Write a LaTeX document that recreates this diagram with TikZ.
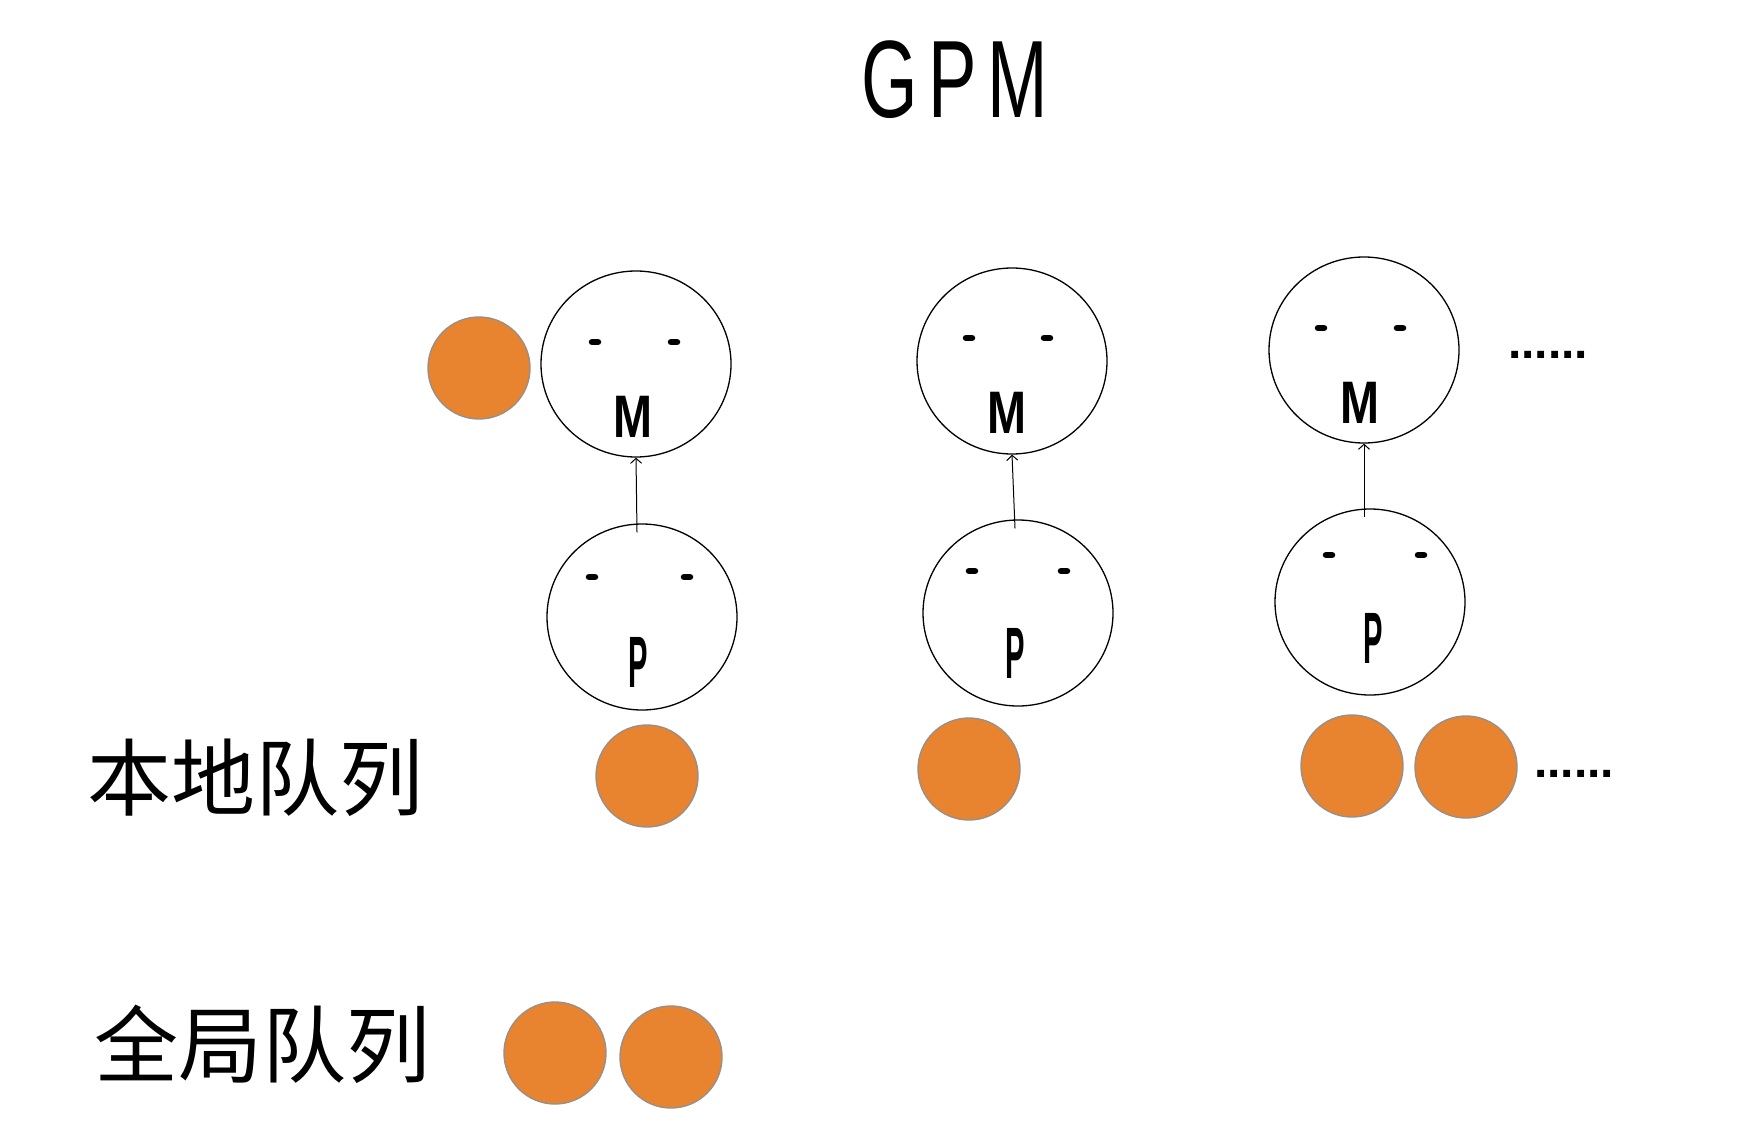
\documentclass[tikz,border=0pt]{standalone}
\usepackage{fontspec}
\setmainfont{Liberation Sans}
\newfontfamily\cjkfont{Noto Sans CJK SC}
\newfontfamily\dotfont{Liberation Sans}
\usetikzlibrary{shapes.geometric,arrows.meta}
\definecolor{gball}{HTML}{E8842F}
\definecolor{gedge}{HTML}{9A8F86}
\tikzset{
  face/.style={draw=black, line width=1.3pt, ellipse, inner sep=0pt, minimum width=190pt, minimum height=186pt},
  gor/.style={circle, fill=gball, draw=gedge, line width=1.4pt, inner sep=0pt, minimum size=102pt},
  eye/.style={line width=6.5pt, line cap=round},
  letterM/.style={anchor=base, inner sep=0pt, font=\bfseries\fontsize{60}{60}\selectfont},
  letterP/.style={anchor=base, inner sep=0pt, font=\bfseries\fontsize{56}{56}\selectfont},
  cjklabel/.style={inner sep=0pt, anchor=center, font=\cjkfont\fontsize{84}{84}\selectfont},
  dotsty/.style={inner sep=0pt, anchor=center, font=\dotfont\bfseries\fontsize{48}{48}\selectfont},
  link/.style={line width=1pt, -{Straight Barb[length=5pt,width=11pt,line width=1pt]}}
}
\begin{document}
\begin{tikzpicture}[x=1pt,y=-1pt]
\useasboundingbox (0,0) rectangle (1758,1142);
\fill[white] (0,0) rectangle (1758,1142);

% title
\node[anchor=base, inner sep=0pt, font=\fontsize{110}{110}\selectfont] (title) at (955,118) {\scalebox{0.66}[1]{G\hspace{16pt}P\hspace{16pt}M}};

% M circles
\node[face] (M1) at (636,364) {};
\node[face] (M2) at (1012,361) {};
\node[face] (M3) at (1364,350) {};
% P circles
\node[face] (P1) at (642,617) {};
\node[face] (P2) at (1018,613) {};
\node[face] (P3) at (1370,602) {};

% eyes
\foreach \n/\dx/\dy/\ex in {M1/-41/-22/38, M2/-43/-23/35, M3/-43/-22/36, P1/-50/-40/45, P2/-46/-42/46, P3/-41/-47/51}{
  \draw[eye] ([shift={(\dx-3,\dy)}]\n.center) -- ++(6,0);
  \draw[eye] ([shift={(\ex-3,\dy)}]\n.center) -- ++(6,0);
}

% letters
\node[letterM] (m1) at (633,437) {\scalebox{0.78}[1]{M}};
\node[letterM] (m2) at (1007,433) {\scalebox{0.78}[1]{M}};
\node[letterM] (m3) at (1360,423) {\scalebox{0.78}[1]{M}};
\node[letterP] (p1) at (638,687) {\scalebox{0.52}[1.3]{P}};
\node[letterP] (p2) at (1015,678) {\scalebox{0.52}[1.3]{P}};
\node[letterP] (p3) at (1373,663) {\scalebox{0.52}[1.3]{P}};

% arrows P -> M
\draw[link] ([shift={(-5,9)}]P1.north) -- (M1.south);
\draw[link] ([shift={(-3,9)}]P2.north) -- (M2.south);
\draw[link] ([shift={(-6,9)}]P3.north) -- (M3.south);

% orange goroutines
\node[gor] (g0) at (479,368) {};
\node[gor] (l1) at (647,776) {};
\node[gor] (l2) at (969,769) {};
\node[gor] (l3) at (1352,766) {};
\node[gor] (l4) at (1466,767) {};
\node[gor] (q1) at (555,1053) {};
\node[gor] (q2) at (671,1057) {};

% dots
\node[dotsty] (d1) at (1548,355) {......};
\node[dotsty] (d2) at (1574,774) {......};

% labels
\node[cjklabel] (local) at (255,778) {本地队列};
\node[cjklabel] (global) at (262,1044) {全局队列};
\end{tikzpicture}
\end{document}
